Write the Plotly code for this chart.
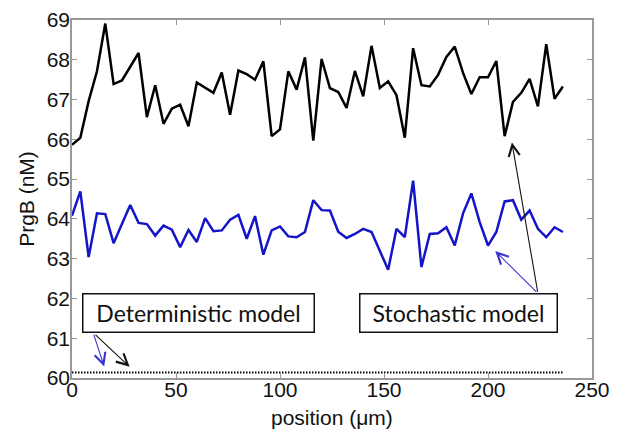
import plotly.graph_objects as go

positions = [0, 4, 8, 12, 16, 20, 24, 28, 32, 36, 40, 44, 48, 52, 56, 60, 64, 68, 72, 76,
             80, 84, 88, 92, 96, 100, 104, 108, 112, 116, 120, 124, 128, 132, 136, 140, 144, 148, 152, 156,
             160, 164, 168, 172, 176, 180, 184, 188, 192, 196, 200, 204, 208, 212, 216, 220, 224, 228, 232, 236]

stoch_black = [65.86, 66.04, 66.96, 67.71, 68.91, 67.39, 67.48, 67.83, 68.17, 66.56,
               67.36, 66.39, 66.77, 66.87, 66.33, 67.43, 67.31, 67.17, 67.68, 66.62,
               67.73, 67.64, 67.50, 67.96, 66.08, 66.25, 67.71, 67.25, 68.06, 65.97,
               68.02, 67.29, 67.19, 66.79, 67.72, 67.08, 68.35, 67.29, 67.46, 67.11,
               66.04, 68.29, 67.36, 67.33, 67.62, 68.07, 68.33, 67.67, 67.14, 67.56,
               67.56, 67.97, 66.08, 66.94, 67.17, 67.52, 66.83, 68.39, 67.02, 67.33]

stoch_blue = [64.08, 64.69, 63.04, 64.14, 64.12, 63.39, 63.87, 64.35, 63.90, 63.87,
              63.58, 63.83, 63.73, 63.29, 63.72, 63.42, 64.02, 63.69, 63.71, 63.98,
              64.10, 63.50, 64.07, 63.10, 63.71, 63.81, 63.56, 63.54, 63.67, 64.47,
              64.22, 64.21, 63.68, 63.52, 63.62, 63.75, 63.67, 63.21, 62.72, 63.75,
              63.54, 64.96, 62.79, 63.62, 63.64, 63.79, 63.33, 64.14, 64.64, 63.92,
              63.33, 63.67, 64.44, 64.47, 63.98, 64.21, 63.75, 63.54, 63.79, 63.67]

deterministic = [60.14] * len(positions)

x_ticks = [0, 50, 100, 150, 200, 250]
y_ticks = [60, 61, 62, 63, 64, 65, 66, 67, 68, 69]

BLUE = "#1414c8"
ARROW_BLUE = "#3a36d0"

fig = go.Figure()
fig.add_trace(go.Scatter(x=positions, y=deterministic, mode="lines",
                         line=dict(color="black", width=2, dash="1.5px,1.5px"),
                         showlegend=False, hoverinfo="skip"))
fig.add_trace(go.Scatter(x=positions, y=stoch_blue, mode="lines",
                         line=dict(color=BLUE, width=2.5), showlegend=False))
fig.add_trace(go.Scatter(x=positions, y=stoch_black, mode="lines",
                         line=dict(color="black", width=2.5), showlegend=False))

box_font = dict(family="Lato", size=23, color="#111")
tick_font = dict(family="Arial", size=21, color="#111")

annotations = [
    dict(x=61.0, y=61.625, xref="x", yref="y", text="Deterministic model", showarrow=False,
         font=box_font, bordercolor="#111", borderwidth=1.5, borderpad=0,
         width=230, height=37, bgcolor="white", xanchor="center", yanchor="middle"),
    dict(x=185.6, y=61.625, xref="x", yref="y", text="Stochastic model", showarrow=False,
         font=box_font, bordercolor="#111", borderwidth=1.5, borderpad=0,
         width=196, height=37, bgcolor="white", xanchor="center", yanchor="middle"),
    dict(x=0.5, y=-0.11, xref="paper", yref="paper", text="position (μm)", showarrow=False,
         font=tick_font, xanchor="center", yanchor="middle"),
]

arrows = [
    (15.5, 60.29, 10.2, 61.13, ARROW_BLUE),
    (27.7, 60.28, 10.6, 61.12, "#111"),
    (203.5, 63.19, 224.0, 62.13, ARROW_BLUE),
    (211.5, 65.92, 224.0, 62.13, "#111"),
]
for hx, hy, tx, ty, col in arrows:
    annotations.append(dict(x=hx, y=hy, ax=tx, ay=ty, xref="x", yref="y", axref="x", ayref="y",
                            text="", showarrow=True, arrowhead=5, arrowsize=2.0,
                            arrowwidth=1.1, arrowcolor=col, standoff=0, startstandoff=0))

fig.update_layout(
    width=610, height=426,
    margin=dict(l=64, r=26, t=12, b=56),
    paper_bgcolor="white", plot_bgcolor="white",
    annotations=annotations,
    xaxis=dict(range=[0, 250], tickvals=x_ticks, ticks="inside", ticklen=5, tickwidth=1,
               tickcolor="#999", showline=True, linecolor="#999", linewidth=1.5, mirror="ticks",
               showgrid=False, zeroline=False, tickfont=tick_font, ticklabelstandoff=-8,
               ticklabeloverflow="allow", automargin=False),
    yaxis=dict(range=[60, 69], tickvals=y_ticks, ticks="inside", ticklen=5, tickwidth=1,
               tickcolor="#999", showline=True, linecolor="#999", linewidth=1.5, mirror="ticks",
               showgrid=False, zeroline=False, tickfont=tick_font, automargin=False,
               ticklabelstandoff=-4, ticklabeloverflow="allow",
               title=dict(text="PrgB (nM)", font=tick_font, standoff=6)),
)

fig.write_html("out.html")
